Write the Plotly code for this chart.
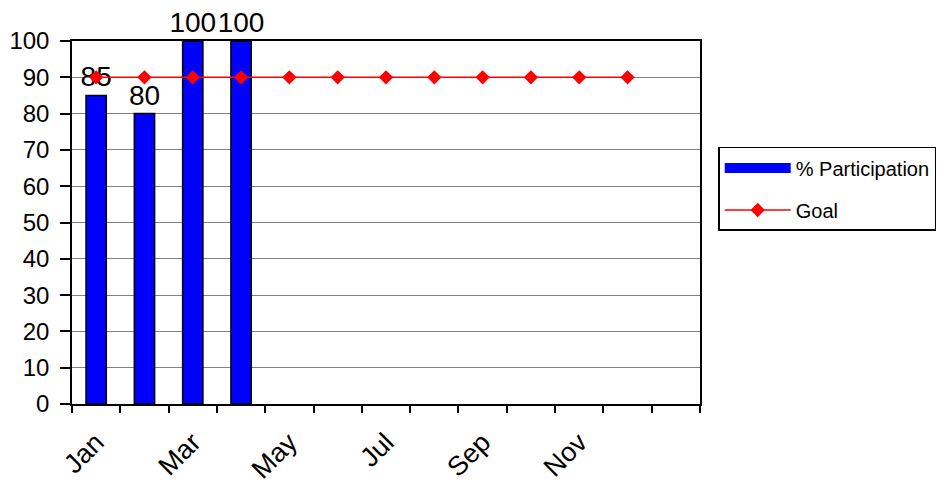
import plotly.graph_objects as go

months = ["Jan", "Feb", "Mar", "Apr", "May", "Jun", "Jul", "Aug", "Sep", "Oct", "Nov", "Dec"]
participation = [85, 80, 100, 100]
goal = [90] * 12
label_months = ["Jan", "Mar", "May", "Jul", "Sep", "Nov"]

x_part = list(range(len(participation)))
x_goal = list(range(len(goal)))
label_pos = [months.index(m) for m in label_months]
boundaries = [i - 0.5 for i in range(len(months) + 2)]

FONT = "Liberation Sans, Arial, sans-serif"

fig = go.Figure()
fig.add_trace(go.Bar(
    x=x_part, y=participation, name="% Participation",
    marker=dict(color="#0000FF", line=dict(color="black", width=1.5)),
    width=0.42, showlegend=False,
    text=[str(v) for v in participation], textposition="outside",
    textfont=dict(size=28, color="black", family=FONT),
    constraintext="none", cliponaxis=False,
))
# legend entry for the bars (wide blue swatch, as in the reference)
fig.add_trace(go.Scatter(
    x=[None], y=[None], name="% Participation", mode="lines",
    line=dict(color="#0000FF", width=10), legendgroup="a",
))
fig.add_trace(go.Scatter(
    x=x_goal, y=goal, name="Goal", mode="lines+markers",
    line=dict(color="#FF0000", width=1.5),
    marker=dict(symbol="diamond", size=11, color="#FF0000"),
    cliponaxis=False, legendgroup="b",
))

rng_x = [-0.5, len(months) + 0.5]
fig.update_layout(
    width=945, height=483,
    margin=dict(l=64, r=253, t=33, b=87, autoexpand=False),
    paper_bgcolor="white", plot_bgcolor="white",
    font=dict(family=FONT, color="black"),
    showlegend=True,
    legend=dict(
        x=1.029, y=0.708, xanchor="left", yanchor="top",
        bordercolor="black", borderwidth=1.5,
        font=dict(size=20, family=FONT),
        tracegroupgap=13, itemwidth=66, traceorder="grouped",
    ),
    xaxis=dict(
        range=rng_x, tickmode="array", tickvals=label_pos, ticktext=label_months,
        tickangle=-45, ticks="", tickfont=dict(size=27), ticklabelstandoff=10,
        showline=True, linecolor="black", linewidth=1.5, mirror=True,
        showgrid=False, zeroline=False, automargin=False,
        minor=dict(tickmode="array", tickvals=boundaries, ticks="outside",
                   ticklen=7, tickwidth=1.5, tickcolor="black", showgrid=False),
    ),
    xaxis2=dict(
        overlaying="x", anchor="y", range=rng_x, tickmode="array",
        tickvals=boundaries, ticks="inside", ticklen=7, tickwidth=1.5,
        tickcolor="black", showticklabels=False, showgrid=False,
        zeroline=False, showline=False, automargin=False,
    ),
    yaxis=dict(
        range=[0, 100], dtick=10, ticks="outside", ticklen=10, tickwidth=1.5,
        tickcolor="black", tickfont=dict(size=24), ticklabelstandoff=6,
        showline=True, linecolor="black", linewidth=1.5, mirror=True,
        showgrid=True, gridcolor="#808080", gridwidth=1, zeroline=False,
        automargin=False,
    ),
    yaxis2=dict(
        overlaying="y", anchor="x", side="left", range=[0, 100], dtick=10,
        ticks="inside", ticklen=8, tickwidth=1.5, tickcolor="black",
        showticklabels=False, showgrid=False, zeroline=False, showline=False,
        automargin=False,
    ),
)

fig.write_html("out.html")
